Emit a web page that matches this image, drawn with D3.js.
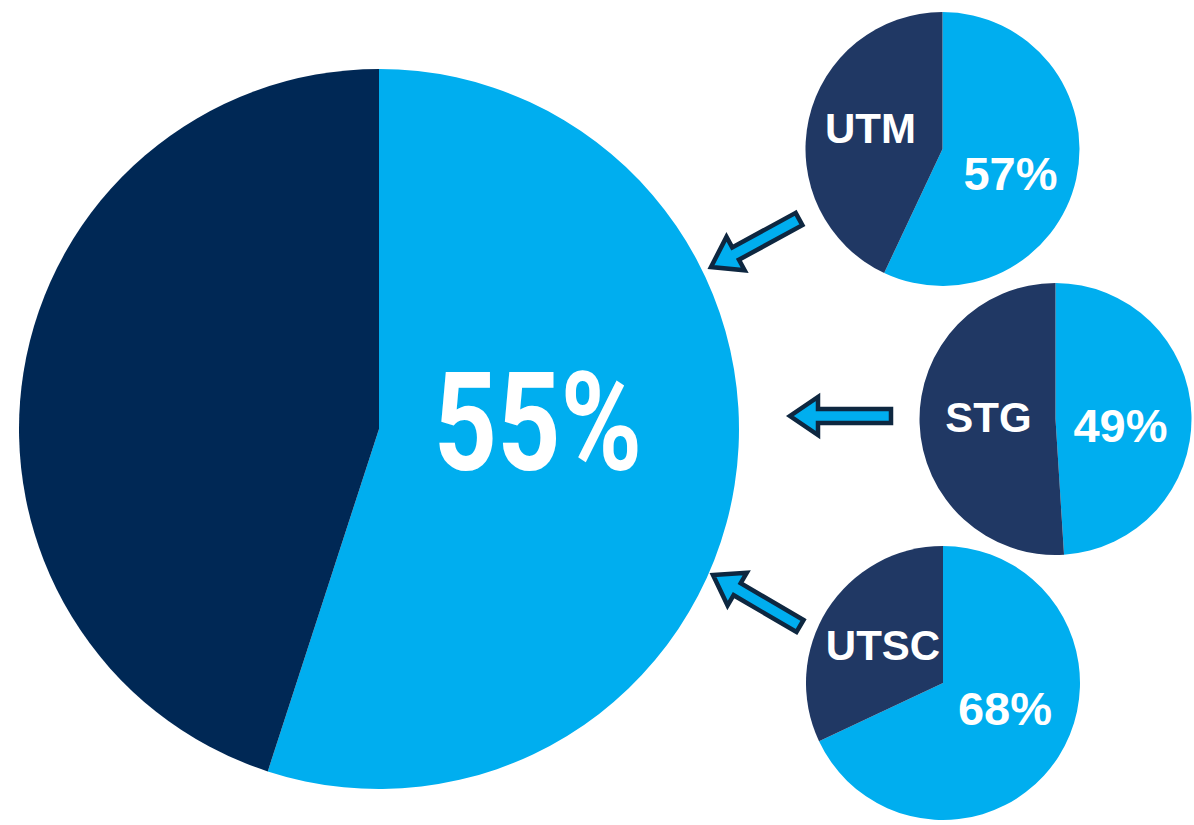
<!DOCTYPE html>
<html>
<head>
<meta charset="utf-8">
<script src="https://cdn.jsdelivr.net/npm/d3@7"></script>
<style>
  html, body { margin: 0; padding: 0; background: #fff; }
  svg { display: block; }
</style>
</head>
<body>
<svg width="1194" height="825"></svg>
<script>
// share of respondents (percent), overall and by campus
const overall = 55;
const campuses = ["UTM", "STG", "UTSC"];
const campusValues = [57, 49, 68];

const lightBlue = "#00aeef",
    bigDark = "#002855",
    smallDark = "#203864",
    arrowEdge = "#0e2740";

let svg = d3.select("svg");

let pie = d3.pie().sort(null).value(function (d) { return d; });

// big pie
let big = { x: 379, y: 429, r: 360 };
let bigArc = d3.arc().innerRadius(0).outerRadius(big.r);

let gBig = svg.append("g").attr("transform", "translate(" + big.x + "," + big.y + ")");
gBig.selectAll("path")
    .data(pie([overall, 100 - overall]))
    .enter().append("path")
    .attr("d", bigArc)
    .attr("fill", function (d, i) { return i === 0 ? lightBlue : bigDark; });

gBig.append("text")
    .attr("transform", "translate(159,41) scale(0.8,1)")
    .attr("text-anchor", "middle")
    .attr("font-family", "Roboto, 'Liberation Sans', sans-serif")
    .attr("font-weight", "bold")
    .attr("font-size", 138)
    .attr("fill", "#fff")
    .text(overall + "%");

// small campus pies
let small = [
    { x: 942.5, y: 149, r: 137, name: [-72, -6], pct: [68, 41] },
    { x: 1055.5, y: 419, r: 136, name: [-67, 13], pct: [65, 23] },
    { x: 943, y: 683, r: 137, name: [-60, -23], pct: [62, 42] }
];
let smallArc = d3.arc().innerRadius(0);

campuses.forEach(function (c, k) {
    let s = small[k];
    let g = svg.append("g").attr("transform", "translate(" + s.x + "," + s.y + ")");
    g.selectAll("path")
        .data(pie([campusValues[k], 100 - campusValues[k]]))
        .enter().append("path")
        .attr("d", function (d) { return smallArc.outerRadius(s.r)(d); })
        .attr("fill", function (d, i) { return i === 0 ? lightBlue : smallDark; });

    g.append("text")
        .attr("x", s.name[0]).attr("y", s.name[1])
        .attr("text-anchor", "middle")
        .attr("font-family", "'Liberation Sans', Arial, sans-serif")
        .attr("font-weight", "bold")
        .attr("font-size", 42)
        .attr("fill", "#fff")
        .text(c);

    g.append("text")
        .attr("x", s.pct[0]).attr("y", s.pct[1])
        .attr("text-anchor", "middle")
        .attr("font-family", "'Liberation Sans', Arial, sans-serif")
        .attr("font-weight", "bold")
        .attr("font-size", 47)
        .attr("fill", "#fff")
        .text(campusValues[k] + "%");
});

// arrows pointing from each campus pie to the big pie
let arrows = [
    [[799, 219], [711, 267]],
    [[891, 416], [790, 416]],
    [[800, 626], [713, 575]]
];

function arrowPath(a, b) {
    let dx = b[0] - a[0], dy = b[1] - a[1];
    let len = Math.sqrt(dx * dx + dy * dy);
    let ux = dx / len, uy = dy / len, nx = -uy, ny = ux;
    let shaft = 7, head = 19, headLen = 28;
    let bx = b[0] - ux * headLen, by = b[1] - uy * headLen;
    let pts = [
        [a[0] + nx * shaft, a[1] + ny * shaft],
        [bx + nx * shaft, by + ny * shaft],
        [bx + nx * head, by + ny * head],
        b,
        [bx - nx * head, by - ny * head],
        [bx - nx * shaft, by - ny * shaft],
        [a[0] - nx * shaft, a[1] - ny * shaft]
    ];
    return d3.line()(pts) + "Z";
}

svg.selectAll(".arrow")
    .data(arrows)
    .enter().append("path")
    .attr("class", "arrow")
    .attr("d", function (d) { return arrowPath(d[0], d[1]); })
    .attr("fill", lightBlue)
    .attr("stroke", arrowEdge)
    .attr("stroke-width", 4.5)
    .attr("stroke-linejoin", "miter");
</script>
</body>
</html>
